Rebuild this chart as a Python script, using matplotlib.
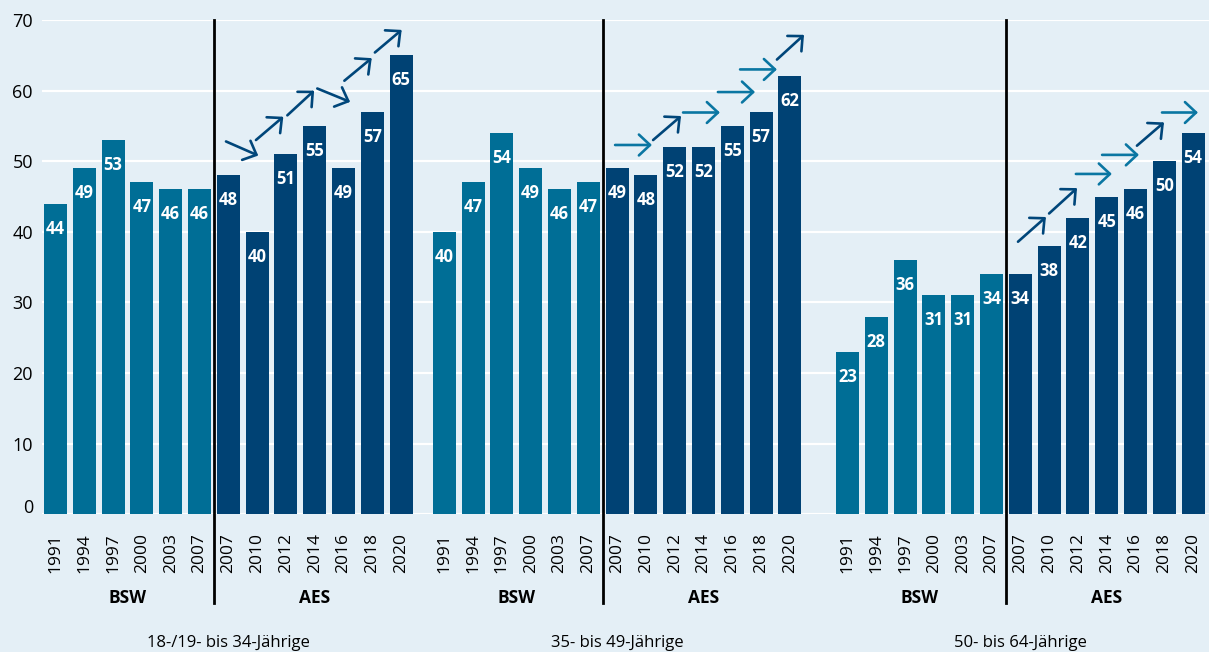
import matplotlib
matplotlib.use("Agg")
import matplotlib.pyplot as plt
from matplotlib.patches import FancyArrowPatch
from matplotlib.transforms import blended_transform_factory, ScaledTranslation

plt.rcParams['font.family'] = ['Open Sans', 'DejaVu Sans']

# ---- data -------------------------------------------------------------
years_bsw = ['1991', '1994', '1997', '2000', '2003', '2007']
years_aes = ['2007', '2010', '2012', '2014', '2016', '2018', '2020']

age_groups = ['18-/19- bis 34-Jährige', '35- bis 49-Jährige', '50- bis 64-Jährige']

bsw_18_34 = [44, 49, 53, 47, 46, 46]
aes_18_34 = [48, 40, 51, 55, 49, 57, 65]

bsw_35_49 = [40, 47, 54, 49, 46, 47]
aes_35_49 = [49, 48, 52, 52, 55, 57, 62]

bsw_50_64 = [23, 28, 36, 31, 31, 34]
aes_50_64 = [34, 38, 42, 45, 46, 50, 54]

# trend arrows (x0, y0, x1, y1) in bar-slot / percent units
arrows_18_34 = [(5.92, 52.8, 7.04, 50.8), (6.96, 53.0, 7.91, 56.3),
                (8.05, 56.5, 8.98, 60.0), (9.09, 60.3, 10.23, 58.4),
                (10.03, 61.4, 10.98, 64.6), (11.09, 65.4, 12.02, 68.6)]
arrows_35_49 = [(19.43, 52.3, 20.71, 52.3), (20.75, 53.0, 21.72, 56.4),
                (21.79, 56.9, 23.07, 56.9), (23.00, 59.8, 24.29, 59.8),
                (23.77, 63.0, 25.05, 63.0), (25.05, 64.4, 25.99, 67.9)]
arrows_50_64 = [(33.42, 38.6, 34.39, 42.1), (34.50, 42.6, 35.47, 46.2),
                (35.43, 48.2, 36.68, 48.2), (36.34, 50.9, 37.62, 50.9),
                (37.55, 52.2, 38.49, 55.5), (38.42, 56.9, 39.67, 56.9)]

groups = [
    (bsw_18_34, aes_18_34, arrows_18_34),
    (bsw_35_49, aes_35_49, arrows_35_49),
    (bsw_50_64, aes_50_64, arrows_50_64),
]
group_offsets = [0.0, 13.5, 27.5]

# ---- style ------------------------------------------------------------
BG = '#e4eff6'
TEAL = '#006e96'
NAVY = '#004274'
ARROW_FLAT = '#0a76a2'
ARROW_DIAG = '#00467a'

W, H = 1209, 652
fig = plt.figure(figsize=(W / 100, H / 100), dpi=100, facecolor=BG)
ax = fig.add_axes([42 / W, (H - 514.3) / H, 1 - 42 / W, 494.3 / H])
ax.set_facecolor(BG)

ax.set_ylim(0, 70)
ax.set_xlim(-13.5 / 28.8, (W - 55.5) / 28.8)
ax.set_yticks(range(0, 71, 10))
ax.grid(axis='y', color='white', linewidth=1.6)
ax.set_axisbelow(True)
for s in ax.spines.values():
    s.set_visible(False)

xb = blended_transform_factory(ax.transData, ax.transAxes)

xticks, xlabels = [], []
for (bsw, aes, arrows), off, name in zip(groups, group_offsets, age_groups):
    x_bsw = [off + i for i in range(len(bsw))]
    x_aes = [off + len(bsw) + i for i in range(len(aes))]
    ax.bar(x_bsw, bsw, width=0.8, color=TEAL, zorder=2)
    ax.bar(x_aes, aes, width=0.8, color=NAVY, zorder=2)

    for x, v in list(zip(x_bsw, bsw)) + list(zip(x_aes, aes)):
        ax.annotate(str(v), (x, v), xytext=(0, -18), textcoords='offset points',
                    ha='center', va='center', color='white', fontweight='bold',
                    fontsize=12, zorder=3)

    xticks += x_bsw + x_aes
    xlabels += years_bsw + years_aes

    sep = off + len(bsw) - 0.5
    ax.axvline(sep, ymin=-0.179, ymax=1, color='black', linewidth=2,
               clip_on=False, zorder=4)

    ax.text((x_bsw[0] + x_bsw[-1]) / 2, -0.169, 'BSW', transform=xb,
            ha='center', va='center', fontsize=12.5, fontweight='bold')
    ax.text((x_aes[0] + x_aes[-1]) / 2, -0.169, 'AES', transform=xb,
            ha='center', va='center', fontsize=12.5, fontweight='bold')
    ax.text((x_bsw[0] + x_aes[-1]) / 2, -0.268, name, transform=xb,
            ha='center', va='baseline', fontsize=12)

    for x0, y0, x1, y1 in arrows:
        col = ARROW_FLAT if y0 == y1 else ARROW_DIAG
        ax.add_patch(FancyArrowPatch(
            (x0, y0), (x1, y1),
            arrowstyle='->,head_length=0.8,head_width=0.75',
            mutation_scale=10, linewidth=1.9, color=col,
            shrinkA=0, shrinkB=0, clip_on=False, zorder=5))

ax.set_xticks(xticks)
ax.set_xticklabels(xlabels, rotation=90, fontsize=12.5)
ax.tick_params(axis='x', length=0, pad=13.5)
ax.tick_params(axis='y', length=0, pad=6.5, labelsize=13)

# lift the zero label off the baseline
zero_lbl = ax.yaxis.get_major_ticks()[0].label1
zero_lbl.set_transform(zero_lbl.get_transform()
                       + ScaledTranslation(0, 8 / 100, fig.dpi_scale_trans))

fig.savefig('out.png', dpi=100, facecolor=BG)
